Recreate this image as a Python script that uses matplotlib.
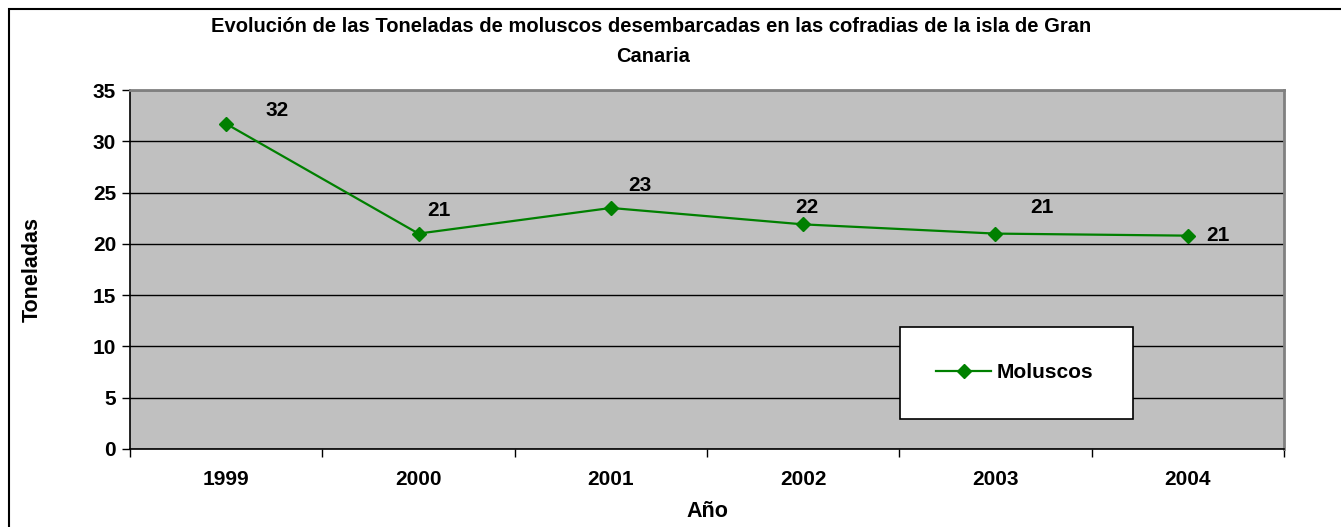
import matplotlib.pyplot as plt
from matplotlib.patches import Rectangle
import numpy as np

plt.rcParams['font.family'] = ['Liberation Sans', 'DejaVu Sans']
plt.rcParams['font.weight'] = 'bold'

# datos
anios = ['1999', '2000', '2001', '2002', '2003', '2004']
toneladas = [31.7, 21.0, 23.5, 21.9, 21.0, 20.8]
etiquetas = ['32', '21', '23', '22', '21', '21']
# desplazamiento de las etiquetas (pixeles), como en el original
offs = [(51, 13), (20, 23), (29, 22), (4, 17), (46, 26), (30, 0)]

verde = '#008000'

fig = plt.figure(figsize=(13.41, 5.27), dpi=100)
ax = fig.add_axes([130/1341, 1-449/527, 1154/1341, 359/527])
ax.set_facecolor('#c0c0c0')

x = np.arange(len(anios))
ax.plot(x, toneladas, color=verde, lw=1.6, marker='D', ms=7, label='Moluscos', zorder=3)

for i in range(len(x)):
    ax.annotate(etiquetas[i], (x[i], toneladas[i]), xytext=offs[i], textcoords='offset pixels',
                ha='center', va='center', fontsize=15, fontweight='bold')

ax.set_xlim(-0.5, len(anios) - 0.5)
ax.set_ylim(0, 35)
ax.set_yticks(np.arange(0, 36, 5))
ax.set_xticks(x)
ax.set_xticklabels(anios)
ax.set_xticks(np.arange(-0.5, len(anios), 1), minor=True)
ax.tick_params(axis='x', which='major', length=0, pad=15, labelsize=15)
ax.tick_params(axis='x', which='minor', length=6, width=1, direction='out')
ax.tick_params(axis='y', length=6, width=1, labelsize=15, pad=4)
ax.yaxis.grid(True, color='black', lw=1)
ax.set_axisbelow(True)

for s in ['top', 'right']:
    ax.spines[s].set_color('#808080')
    ax.spines[s].set_linewidth(2)
for s in ['left', 'bottom']:
    ax.spines[s].set_color('black')
    ax.spines[s].set_linewidth(1.2)

ax.set_xlabel('Año', fontsize=15.5, fontweight='bold', labelpad=9)
ax.set_ylabel('Toneladas', fontsize=15.5, fontweight='bold', labelpad=36)

fig.text(651/1341, 1-27/527, 'Evolución de las Toneladas de moluscos desembarcadas en las cofradias de la isla de Gran',
         ha='center', va='center', fontsize=14.5, fontweight='bold')
fig.text(653/1341, 1-57/527, 'Canaria', ha='center', va='center', fontsize=14.5, fontweight='bold')

leg = ax.legend(loc='center', bbox_to_anchor=((900-130)/1154, (449-420)/359, 233/1154, 94/359),
                mode='expand', frameon=True, fancybox=False, fontsize=15, handlelength=2.6,
                borderpad=1.75, borderaxespad=0, handletextpad=0.3)
leg.get_frame().set_edgecolor('black')
leg.get_frame().set_linewidth(1.2)
leg.get_frame().set_alpha(1)

fig.patches.append(Rectangle((9/1341, -0.05), 1.1, 1-9/527+0.05, transform=fig.transFigure,
                             fill=False, edgecolor='black', lw=1.5))

fig.savefig('out.png', dpi=100)
